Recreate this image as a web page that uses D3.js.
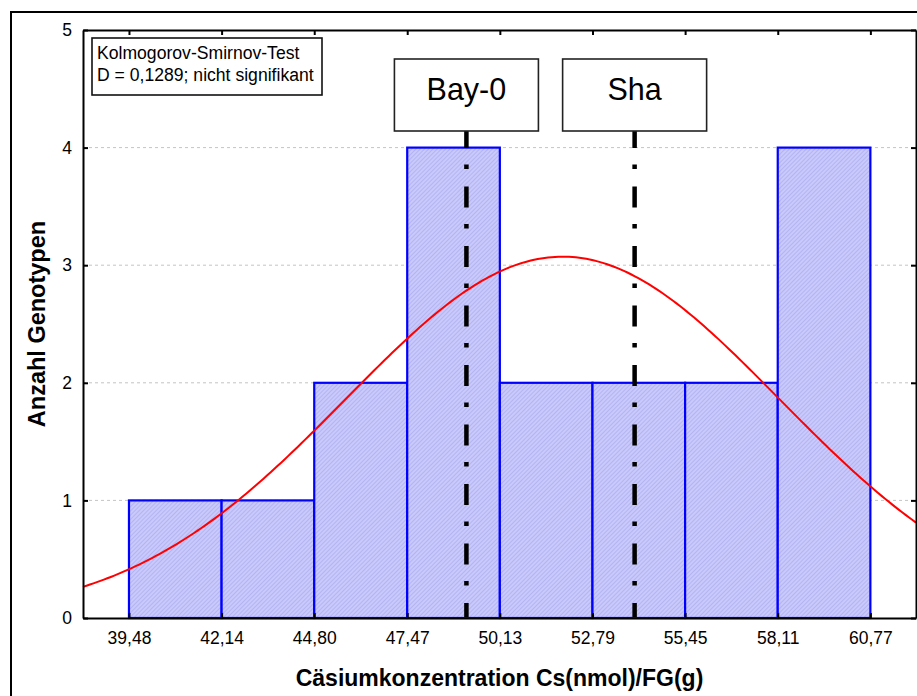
<!DOCTYPE html>
<html>
<head>
<meta charset="utf-8">
<script src="https://cdn.jsdelivr.net/npm/d3@7"></script>
<style>
  html, body { margin: 0; padding: 0; background: #fff; }
  svg { display: block; font-family: "Liberation Sans", Arial, sans-serif; }
</style>
</head>
<body>
<svg id="chart" width="917" height="696"></svg>
<script>
// Histogram classes (bin edges, nmol/g FG) and number of genotypes per class
const binEdges = [39.48, 42.14, 44.80, 47.47, 50.13, 52.79, 55.45, 58.11, 60.77];
const counts = [1, 1, 2, 4, 2, 2, 2, 4];
const yTicks = [0, 1, 2, 3, 4, 5];

// Reference genotypes marked on the axis
const markerNames = ["Bay-0", "Sha"];
const markerValues = [49.17, 54.00];

// Fitted normal distribution
const fitMean = 51.93;
const fitSd = 6.22;

// Test result text
const testLines = ["Kolmogorov-Smirnov-Test", "D = 0,1289; nicht signifikant"];

const xTitle = "Cäsiumkonzentration Cs(nmol)/FG(g)";
const yTitle = "Anzahl Genotypen";

const de = d3.formatLocale({ decimal: ",", thousands: ".", grouping: [3], currency: ["", " €"] });
const fmt = de.format(".2f");

const svg = d3.select("#chart");
const W = 917, H = 696;
const plot = { left: 83, top: 30, right: 916, bottom: 618 };

svg.append("rect").attr("width", W).attr("height", H).attr("fill", "#fff");

// outer frame
svg.append("rect")
  .attr("x", 11).attr("y", 12).attr("width", 940).attr("height", 720)
  .attr("fill", "none").attr("stroke", "#000").attr("stroke-width", 2);

const x = d3.scaleLinear().domain([38.16, 62.08]).range([plot.left, plot.right]);
const y = d3.scaleLinear().domain([0, 5]).range([plot.bottom, plot.top]);

// hatched fill for the bars
const defs = svg.append("defs");
const pat = defs.append("pattern")
  .attr("id", "hatch").attr("patternUnits", "userSpaceOnUse")
  .attr("width", 3).attr("height", 3)
  .attr("patternTransform", "rotate(-45)");
pat.append("rect").attr("width", 3).attr("height", 3).attr("fill", "#c9c9fb");
pat.append("line").attr("x1", 0).attr("y1", 0).attr("x2", 3).attr("y2", 0)
  .attr("stroke", "#a6a6ec").attr("stroke-width", 1.2);

// horizontal grid
svg.append("g").selectAll("line")
  .data(yTicks.filter(d => d > 0 && d < 5))
  .join("line")
  .attr("x1", plot.left).attr("x2", plot.right)
  .attr("y1", d => y(d)).attr("y2", d => y(d))
  .attr("stroke", "#c4c4c4").attr("stroke-width", 1)
  .attr("stroke-dasharray", "3,3");

// bars
const bins = counts.map((c, i) => ({ x0: binEdges[i], x1: binEdges[i + 1], n: c }));
svg.append("g").selectAll("rect")
  .data(bins)
  .join("rect")
  .attr("x", d => x(d.x0))
  .attr("y", d => y(d.n))
  .attr("width", d => x(d.x1) - x(d.x0))
  .attr("height", d => y(0) - y(d.n))
  .attr("fill", "url(#hatch)")
  .attr("stroke", "#0000ff")
  .attr("stroke-width", 2.2);

// fitted normal curve, scaled to expected counts per class
const nTotal = d3.sum(counts);
const binWidth = (binEdges[binEdges.length - 1] - binEdges[0]) / counts.length;
const expected = v => nTotal * binWidth *
  Math.exp(-0.5 * Math.pow((v - fitMean) / fitSd, 2)) / (fitSd * Math.sqrt(2 * Math.PI));
const curveX = d3.range(0, 241).map(i => x.domain()[0] + i * (x.domain()[1] - x.domain()[0]) / 240);
svg.append("path")
  .datum(curveX)
  .attr("fill", "none").attr("stroke", "#ff0000").attr("stroke-width", 2)
  .attr("d", d3.line().x(v => x(v)).y(v => y(expected(v))));

// axes
const axisStyle = g => {
  g.select(".domain").attr("stroke", "#000").attr("stroke-width", 2);
  g.selectAll(".tick line").attr("stroke", "#000").attr("stroke-width", 2);
  g.selectAll(".tick text").attr("fill", "#000").attr("font-size", "17.5px")
    .attr("font-family", "'Liberation Sans', Arial, sans-serif");
};

svg.append("g").attr("transform", `translate(0,${plot.bottom})`)
  .call(d3.axisBottom(x).tickValues(binEdges).tickFormat(fmt)
    .tickSizeInner(-5).tickSizeOuter(0).tickPadding(14))
  .call(axisStyle);

svg.append("g").attr("transform", `translate(0,${plot.top})`)
  .call(d3.axisTop(x).tickValues(binEdges).tickFormat("")
    .tickSizeInner(-5).tickSizeOuter(0))
  .call(axisStyle);

svg.append("g").attr("transform", `translate(${plot.left},0)`)
  .call(d3.axisLeft(y).tickValues(yTicks).tickFormat(d3.format("d"))
    .tickSizeInner(-5).tickSizeOuter(0).tickPadding(11))
  .call(axisStyle);

svg.append("g").attr("transform", `translate(${plot.right},0)`)
  .call(d3.axisRight(y).tickValues(yTicks).tickFormat("")
    .tickSizeInner(-5).tickSizeOuter(0))
  .call(axisStyle);

// axis titles
svg.append("text")
  .attr("x", (plot.left + plot.right) / 2).attr("y", 686)
  .attr("text-anchor", "middle").attr("font-weight", "bold").attr("font-size", "23px")
  .text(xTitle);

svg.append("text")
  .attr("transform", `translate(45,${(plot.top + plot.bottom) / 2}) rotate(-90)`)
  .attr("text-anchor", "middle").attr("font-weight", "bold").attr("font-size", "23.5px")
  .text(yTitle);

// marker lines with label boxes
const boxW = 144, boxH = 72, boxTop = 59;
const markers = markerNames.map((name, i) => ({ name, v: markerValues[i] }));
const mg = svg.append("g").selectAll("g").data(markers).join("g");
mg.append("line")
  .attr("x1", d => x(d.v)).attr("x2", d => x(d.v))
  .attr("y1", boxTop + boxH - 4).attr("y2", plot.bottom - 1)
  .attr("stroke", "#000").attr("stroke-width", 4.5)
  .attr("stroke-dasharray", "21,16.5,4.5,17.5");
mg.append("rect")
  .attr("x", d => x(d.v) - boxW / 2).attr("y", boxTop)
  .attr("width", boxW).attr("height", boxH)
  .attr("fill", "#fff").attr("stroke", "#222").attr("stroke-width", 1.6);
mg.append("text")
  .attr("x", d => x(d.v)).attr("y", 100)
  .attr("text-anchor", "middle").attr("font-size", "30.5px")
  .text(d => d.name);

// test result box
svg.append("rect")
  .attr("x", 92).attr("y", 38).attr("width", 230).attr("height", 57)
  .attr("fill", "#fff").attr("stroke", "#111").attr("stroke-width", 1.6);
svg.append("g").selectAll("text").data(testLines).join("text")
  .attr("x", 97).attr("y", (d, i) => 59 + i * 22)
  .attr("font-size", "17.6px")
  .text(d => d);
</script>
</body>
</html>
